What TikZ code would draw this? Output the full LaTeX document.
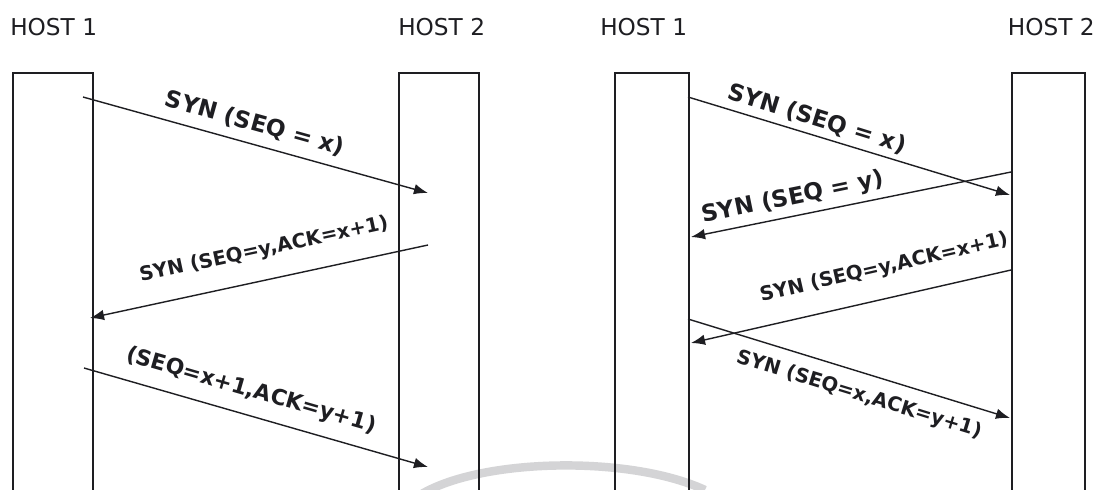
\documentclass[tikz,border=0pt]{standalone}
\usepackage{fontspec}
\setmainfont{DejaVu Sans}
\usetikzlibrary{arrows.meta}
\definecolor{ink}{HTML}{1E1E22}
\definecolor{wm}{HTML}{D4D4D6}
\tikzset{
  host/.style={anchor=south west, inner sep=0pt, font=\fontsize{16.5}{16.5}\selectfont, text=ink},
  lifeline/.style={draw=ink, line width=1.2pt, anchor=north west, inner sep=0pt},
  msg/.style={draw=ink, line width=1pt, -{Latex[length=10pt,width=7.5pt]}},
  lbl/.style={inner sep=0pt, font=\bfseries\fontsize{14}{14}\selectfont, text=ink},
  biglbl/.style={lbl, font=\bfseries\fontsize{16.5}{16.5}\selectfont},
  midlbl/.style={lbl, font=\bfseries\fontsize{15.5}{15.5}\selectfont},
}
\begin{document}
\begin{tikzpicture}[x=0.025cm, y=-0.025cm]
\useasboundingbox (0,0) rectangle (1097,489);
\clip (0,0) rectangle (1097,489);
\fill[white] (0,0) rectangle (1097,489);
% watermark arc
\draw[wm, line width=6pt] (420,495) .. controls (480,458) and (630,455) .. (705,490);
% host labels
\node[host] (h1a) at (10,36) {HOST 1};
\node[host] (h2a) at (398,36) {HOST 2};
\node[host] (h1b) at (600,36) {HOST 1};
\node[host, anchor=south east] (h2b) at (1095,36) {HOST 2};
% lifelines (open at the bottom)
\node[lifeline, minimum width=80*0.025cm, minimum height=460*0.025cm] (A) at (12,72) {};
\node[lifeline, minimum width=80*0.025cm, minimum height=460*0.025cm] (B) at (398,72) {};
\node[lifeline, minimum width=74*0.025cm, minimum height=460*0.025cm] (C) at (614,72) {};
\node[lifeline, minimum width=73*0.025cm, minimum height=460*0.025cm] (D) at (1011,72) {};
% message end points
\coordinate (m1s) at (83,97);   \coordinate (m1e) at (428,193);
\coordinate (m2s) at (428,245); \coordinate (m2e) at (90,318);
\coordinate (m3s) at (84,368);  \coordinate (m3e) at (428,467);
\coordinate (m4s) at (688,97);  \coordinate (m4e) at (1010,195);
\coordinate (m5s) at (1011,172);\coordinate (m5e) at (691,237);
\coordinate (m6s) at (1011,270);\coordinate (m6e) at (691,343);
\coordinate (m7s) at (688,319); \coordinate (m7e) at (1010,418);
% messages
\draw[msg] (m1s) -- (m1e);
\draw[msg] (m2s) -- (m2e);
\draw[msg] (m3s) -- (m3e);
\draw[msg] (m4s) -- (m4e);
\draw[msg] (m5s) -- (m5e);
\draw[msg] (m6s) -- (m6e);
\draw[msg] (m7s) -- (m7e);
% labels
\node[biglbl, rotate=-15.6] (l1) at (255,124) {SYN (SEQ = x)};
\node[lbl, rotate=12.1]  (l2) at (264,250) {SYN (SEQ=y,ACK=x+1)};
\node[midlbl, rotate=-16.2] (l3) at (251,391) {(SEQ=x+1,ACK=y+1)};
\node[biglbl, rotate=-17.3] (l4) at (817,119) {SYN (SEQ = x)};
\node[biglbl, rotate=11.5]  (l5) at (793,198) {SYN (SEQ = y)};
\node[lbl, rotate=12.9]  (l6) at (884,268) {SYN (SEQ=y,ACK=x+1)};
\node[lbl, rotate=-17.1] (l7) at (859,395) {SYN (SEQ=x,ACK=y+1)};
\end{tikzpicture}
\end{document}
